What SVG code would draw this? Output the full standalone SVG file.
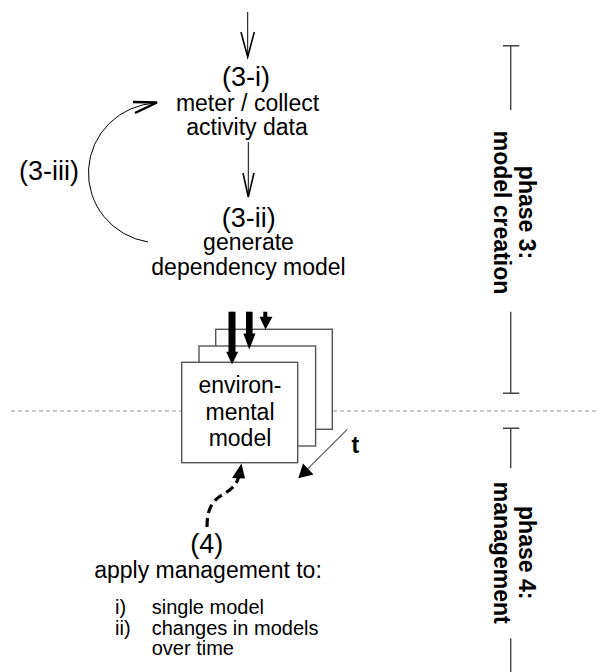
<svg xmlns="http://www.w3.org/2000/svg" width="598" height="672" viewBox="0 0 598 672">
  <style>
    text { font-family: "Liberation Sans", Arial, sans-serif; fill: #000; }
    .lbl { font-size: 23px; text-anchor: middle; }
    .step { font-size: 27px; text-anchor: middle; }
    .phase { font-size: 23px; font-weight: bold; text-anchor: middle; }
    .list { font-size: 20px; }
    .thin { stroke: #000; stroke-width: 1; fill: none; }
    .vhead { stroke: #000; stroke-width: 1.6; fill: none; stroke-linejoin: miter; }
    .box { fill: #fff; stroke: #555; stroke-width: 1.4; }
    .bracket { stroke: #444; stroke-width: 1.4; fill: none; }
  </style>

  <!-- phase separator -->
  <line x1="11" y1="411" x2="598" y2="411" stroke="#999" stroke-width="1" stroke-dasharray="4 3"/>

  <!-- step 3-i -->
  <g id="step-3i">
    <text class="step" x="246" y="86">(3-i)</text>
    <text class="lbl" x="247.5" y="111">meter / collect</text>
    <text class="lbl" x="247" y="135">activity data</text>
  </g>

  <!-- step 3-ii -->
  <g id="step-3ii">
    <text class="step" x="248.7" y="227">(3-ii)</text>
    <text class="lbl" x="248.5" y="250">generate</text>
    <text class="lbl" x="248.5" y="275">dependency model</text>
  </g>

  <!-- step 3-iii -->
  <g id="step-3iii">
    <text class="step" x="49" y="180">(3-iii)</text>
  </g>

  <!-- stacked environmental models -->
  <g id="model-stack">
    <rect class="box" x="215.7" y="329.3" width="116.6" height="100"/>
    <rect class="box" x="199" y="346" width="116.6" height="100"/>
    <rect class="box" x="181.7" y="362.3" width="116" height="100.4"/>
    <text class="lbl" x="240" y="393">environ-</text>
    <text class="lbl" x="240" y="420">mental</text>
    <text class="lbl" x="240" y="446">model</text>
  </g>

  <!-- time label -->
  <g id="time-label">
    <text x="351.5" y="453.3" style="font-size:23px;font-weight:bold">t</text>
  </g>

  <!-- step 4 -->
  <g id="step-4">
    <text class="step" x="206.7" y="553">(4)</text>
    <text class="lbl" x="208" y="578">apply management to:</text>
    <text class="list" x="115" y="613.5">i)</text>
    <text class="list" x="151.7" y="613.5">single model</text>
    <text class="list" x="115" y="634.5">ii)</text>
    <text class="list" x="151.7" y="634.5">changes in models</text>
    <text class="list" x="151.7" y="655">over time</text>
  </g>

  <!-- phase 3 bracket -->
  <g id="phase-3">
    <path class="bracket" d="M503,45.7 H519.3 M510.7,45.7 V110 M510.7,311.7 V393.3 M503,393.3 H519.3"/>
    <g transform="translate(519,212.5) rotate(90)">
      <text class="phase" x="0" y="0">phase 3:</text>
      <text class="phase" x="0" y="25">model creation</text>
    </g>
  </g>

  <!-- phase 4 bracket -->
  <g id="phase-4">
    <path class="bracket" d="M503,428.3 H519.3 M510.7,428.3 V468.3 M510.7,638.3 V672"/>
    <g transform="translate(519,552.7) rotate(90)">
      <text class="phase" x="0" y="0">phase 4:</text>
      <text class="phase" x="0" y="25">management</text>
    </g>
  </g>

  <!-- connectors (drawn last so they sit on top of the model stack) -->
  <g id="connectors">
    <!-- incoming to (3-i) -->
    <line class="thin" x1="247.7" y1="12" x2="247.7" y2="56"/>
    <polyline class="vhead" points="241,32 247.7,57 254.3,32"/>
    <!-- (3-i) to (3-ii) -->
    <line class="thin" x1="248.3" y1="142" x2="248.3" y2="196"/>
    <polyline class="vhead" points="243,173 248.3,197 254,173"/>
    <!-- feedback loop (3-iii) -->
    <path class="thin" d="M148,242 A71,70 0 0 1 156,103"/>
    <polyline points="133,102 157,102.5 135,113" fill="none" stroke="#000" stroke-width="2.4" stroke-linejoin="miter"/>
    <!-- model inputs -->
    <rect x="228.5" y="311.7" width="7" height="41" fill="#000"/>
    <polygon points="226.2,351.7 238.2,351.7 232,364.5" fill="#000"/>
    <rect x="246" y="311.7" width="6.6" height="23" fill="#000"/>
    <polygon points="243.3,333.5 255.5,333.5 249.3,349.5" fill="#000"/>
    <rect x="263.3" y="311.7" width="4" height="6" fill="#000"/>
    <polygon points="259.5,316.7 272.5,316.7 265.5,329.5" fill="#000"/>
    <!-- time axis -->
    <line class="thin" x1="347.3" y1="429.3" x2="305" y2="471.5"/>
    <polygon points="298.3,478.3 303,463.5 313.5,474.5" fill="#000"/>
    <!-- management applied to model -->
    <path d="M207,527 C207,507 214,499 224,494 C232,489 237,484 238.5,477" fill="none" stroke="#000" stroke-width="3.2" stroke-dasharray="9 5"/>
    <polygon points="241.5,463.5 232,478 245,478.5" fill="#000"/>
  </g>
</svg>
